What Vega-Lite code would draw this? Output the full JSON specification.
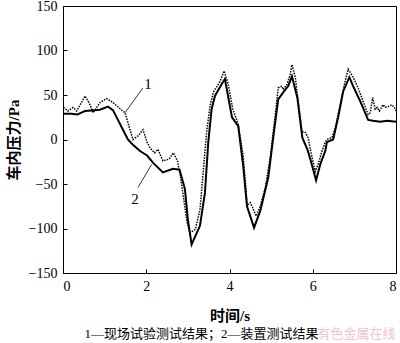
{
  "$schema": "https://vega.github.io/schema/vega-lite/v6.json",
  "width": 333,
  "height": 267,
  "autosize": "none",
  "padding": {"left": 63, "top": 6, "right": 4, "bottom": 70},
  "background": "white",
  "config": {
    "view": {"stroke": "black", "strokeWidth": 1},
    "font": "Liberation Serif",
    "axis": {
      "grid": false,
      "domainColor": "black",
      "tickColor": "black",
      "tickSize": -4,
      "labelPadding": 10,
      "labelColor": "black",
      "labelFont": "Liberation Serif",
      "labelFontSize": 14,
      "titleFont": "Liberation Serif, Noto Sans CJK SC",
      "titleFontSize": 15,
      "titleFontWeight": "bold",
      "titleColor": "black"
    }
  },
  "title": {
    "text": "1—现场试验测试结果；2—装置测试结果",
    "orient": "bottom",
    "font": "Liberation Serif, Noto Sans CJK SC",
    "fontSize": 13,
    "fontWeight": "normal",
    "color": "black",
    "anchor": "middle",
    "baseline": "middle",
    "dx": -28,
    "offset": -7
  },
  "datasets": {
    "solid": [
      {"t": 0, "p": 29}, {"t": 0.2, "p": 29}, {"t": 0.34, "p": 28}, {"t": 0.53, "p": 32},
      {"t": 0.89, "p": 33.5}, {"t": 1.08, "p": 37}, {"t": 1.2, "p": 33}, {"t": 1.32, "p": 22},
      {"t": 1.44, "p": 11}, {"t": 1.56, "p": 0}, {"t": 1.68, "p": -6}, {"t": 1.85, "p": -13},
      {"t": 2.02, "p": -18}, {"t": 2.16, "p": -26}, {"t": 2.4, "p": -37}, {"t": 2.64, "p": -33},
      {"t": 2.8, "p": -34}, {"t": 2.93, "p": -56}, {"t": 3.0, "p": -90}, {"t": 3.09, "p": -118},
      {"t": 3.29, "p": -97}, {"t": 3.41, "p": -60}, {"t": 3.49, "p": -3}, {"t": 3.57, "p": 34},
      {"t": 3.65, "p": 49}, {"t": 3.81, "p": 62}, {"t": 3.89, "p": 68}, {"t": 4.06, "p": 25},
      {"t": 4.21, "p": 15}, {"t": 4.33, "p": -30}, {"t": 4.42, "p": -75}, {"t": 4.59, "p": -99},
      {"t": 4.74, "p": -80}, {"t": 4.93, "p": -43}, {"t": 5.05, "p": 2}, {"t": 5.17, "p": 45},
      {"t": 5.29, "p": 53}, {"t": 5.41, "p": 60}, {"t": 5.5, "p": 71}, {"t": 5.63, "p": 47},
      {"t": 5.75, "p": 2}, {"t": 5.87, "p": -11}, {"t": 5.96, "p": -25}, {"t": 6.08, "p": -46},
      {"t": 6.18, "p": -28}, {"t": 6.3, "p": -13}, {"t": 6.34, "p": -3}, {"t": 6.49, "p": 0},
      {"t": 6.61, "p": 25}, {"t": 6.73, "p": 54}, {"t": 6.88, "p": 70}, {"t": 6.97, "p": 60},
      {"t": 7.14, "p": 43}, {"t": 7.33, "p": 22}, {"t": 7.45, "p": 21}, {"t": 7.62, "p": 20},
      {"t": 7.79, "p": 21}, {"t": 8.0, "p": 20}
    ],
    "dotted": [
      {"t": 0.01, "p": 36}, {"t": 0.12, "p": 32}, {"t": 0.24, "p": 36}, {"t": 0.33, "p": 32},
      {"t": 0.53, "p": 49}, {"t": 0.65, "p": 39}, {"t": 0.72, "p": 30}, {"t": 0.89, "p": 41.6},
      {"t": 1.05, "p": 46}, {"t": 1.2, "p": 41.6}, {"t": 1.41, "p": 33}, {"t": 1.49, "p": 30},
      {"t": 1.61, "p": 11}, {"t": 1.68, "p": 0}, {"t": 1.8, "p": 4}, {"t": 1.92, "p": 11},
      {"t": 2.02, "p": -3}, {"t": 2.1, "p": -10}, {"t": 2.2, "p": -15}, {"t": 2.28, "p": -11},
      {"t": 2.4, "p": -24}, {"t": 2.55, "p": -22}, {"t": 2.65, "p": -15}, {"t": 2.75, "p": -24},
      {"t": 2.82, "p": -41}, {"t": 2.9, "p": -67}, {"t": 2.98, "p": -93}, {"t": 3.05, "p": -105},
      {"t": 3.18, "p": -101}, {"t": 3.29, "p": -79}, {"t": 3.36, "p": -41}, {"t": 3.45, "p": 8},
      {"t": 3.53, "p": 37}, {"t": 3.61, "p": 53}, {"t": 3.77, "p": 65}, {"t": 3.87, "p": 77},
      {"t": 3.97, "p": 62}, {"t": 4.08, "p": 34}, {"t": 4.21, "p": 17}, {"t": 4.33, "p": -19},
      {"t": 4.42, "p": -71}, {"t": 4.45, "p": -73}, {"t": 4.5, "p": -71}, {"t": 4.55, "p": -76},
      {"t": 4.64, "p": -86}, {"t": 4.74, "p": -75}, {"t": 4.86, "p": -54}, {"t": 4.98, "p": -20},
      {"t": 5.1, "p": 28}, {"t": 5.17, "p": 58}, {"t": 5.26, "p": 60}, {"t": 5.29, "p": 56},
      {"t": 5.38, "p": 62}, {"t": 5.46, "p": 73}, {"t": 5.5, "p": 84}, {"t": 5.58, "p": 70},
      {"t": 5.65, "p": 43}, {"t": 5.74, "p": 9}, {"t": 5.82, "p": 8}, {"t": 5.89, "p": 2},
      {"t": 5.95, "p": -13}, {"t": 6.06, "p": -36}, {"t": 6.13, "p": -28}, {"t": 6.22, "p": -13},
      {"t": 6.3, "p": -3}, {"t": 6.34, "p": 0}, {"t": 6.46, "p": 2}, {"t": 6.54, "p": 13},
      {"t": 6.66, "p": 39}, {"t": 6.76, "p": 62}, {"t": 6.85, "p": 79}, {"t": 6.97, "p": 70},
      {"t": 7.09, "p": 58}, {"t": 7.21, "p": 43}, {"t": 7.33, "p": 28}, {"t": 7.38, "p": 30},
      {"t": 7.44, "p": 47}, {"t": 7.5, "p": 34}, {"t": 7.55, "p": 36}, {"t": 7.6, "p": 32},
      {"t": 7.69, "p": 39}, {"t": 7.74, "p": 36}, {"t": 7.81, "p": 37}, {"t": 7.9, "p": 39},
      {"t": 7.96, "p": 36}, {"t": 8.0, "p": 32}
    ],
    "leaders": [
      {"t": 1.49, "p": 30, "t2": 1.92, "p2": 58},
      {"t": 1.8, "p": -54, "t2": 2.13, "p2": -28}
    ],
    "labels": [
      {"t": 2.04, "p": 62, "txt": "1"},
      {"t": 1.73, "p": -67, "txt": "2"}
    ],
    "watermark": [
      {"t": 7.05, "p": -218, "txt": "有色金属在线"}
    ]
  },
  "layer": [
    {
      "data": {"name": "dotted"},
      "mark": {"type": "line", "color": "black", "strokeWidth": 1.5, "strokeDash": [1.5, 1.2]},
      "encoding": {
        "x": {
          "field": "t", "type": "quantitative",
          "scale": {"domain": [0, 8], "nice": false, "zero": false},
          "axis": {"values": [0, 2, 4, 6, 8], "title": "时间/s", "titlePadding": 15}
        },
        "y": {
          "field": "p", "type": "quantitative",
          "scale": {"domain": [-150, 150], "nice": false},
          "axis": {"values": [-150, -100, -50, 0, 50, 100, 150], "title": "车内压力/Pa", "titlePadding": 7}
        }
      }
    },
    {
      "data": {"name": "solid"},
      "mark": {"type": "line", "color": "black", "strokeWidth": 2},
      "encoding": {
        "x": {"field": "t", "type": "quantitative"},
        "y": {"field": "p", "type": "quantitative"}
      }
    },
    {
      "data": {"name": "leaders"},
      "mark": {"type": "rule", "color": "black", "strokeWidth": 0.8},
      "encoding": {
        "x": {"field": "t", "type": "quantitative"},
        "y": {"field": "p", "type": "quantitative"},
        "x2": {"field": "t2"},
        "y2": {"field": "p2"}
      }
    },
    {
      "data": {"name": "labels"},
      "mark": {"type": "text", "fontSize": 15, "font": "Liberation Serif", "color": "black"},
      "encoding": {
        "x": {"field": "t", "type": "quantitative"},
        "y": {"field": "p", "type": "quantitative"},
        "text": {"field": "txt"}
      }
    },
    {
      "data": {"name": "watermark"},
      "mark": {"type": "text", "fontSize": 13, "font": "Noto Sans CJK SC", "color": "#f0b4c4", "opacity": 0.8},
      "encoding": {
        "x": {"field": "t", "type": "quantitative"},
        "y": {"field": "p", "type": "quantitative"},
        "text": {"field": "txt"}
      }
    }
  ]
}
